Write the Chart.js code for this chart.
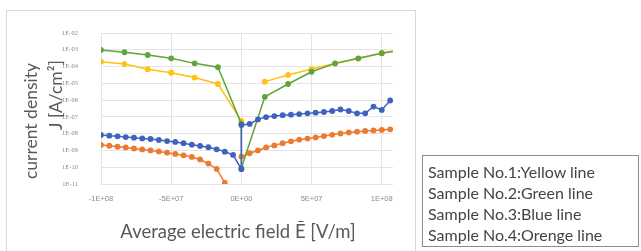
<!DOCTYPE html>
<html>
<head>
<meta charset="utf-8">
<script src="https://cdn.jsdelivr.net/npm/chart.js@4.4.1/dist/chart.umd.min.js"></script>
<style>
  body { margin: 0; background: #fff; width: 641px; height: 251px; overflow: hidden; position: relative; }
  #panel { position: absolute; left: 6px; top: 10px; width: 410px; height: 250px; border: 1px solid #d9d9d9; box-sizing: border-box; }
  #c { position: absolute; left: 0; top: 0; }
  .ttl { position: absolute; font-family: Lato, sans-serif; color: #595959; white-space: nowrap; transform: translate(-50%, -50%); }
  .rot { transform: translate(-50%, -50%) rotate(-90deg); }
  #box { position: absolute; left: 422px; top: 155px; width: 217px; height: 92px; border: 1px solid #8c8c8c; box-sizing: border-box;
         font-family: Lato, sans-serif; font-size: 16px; color: #444; padding: 5px 0 0 5px; line-height: 21px; }
</style>
</head>
<body>
<div id="panel"></div>
<canvas id="c" width="641" height="251"></canvas>
<div class="ttl rot" style="left:30px; top:121px; font-size:17.5px;">current density</div>
<div class="ttl rot" style="left:55px; top:95px; font-size:17.5px;">J [A/cm²]</div>
<div class="ttl" style="left:238px; top:231px; font-size:18.5px;">Average electric field Ē [V/m]</div>
<div id="box">
  <div>Sample No.1:Yellow line</div>
  <div>Sample No.2:Green line</div>
  <div>Sample No.3:Blue line</div>
  <div>Sample No.4:Orenge line</div>
</div>
<script>
// field values [V/m]
const E_coarseNeg = [-1.0e8, -8.33e7, -6.67e7, -5.0e7, -3.33e7, -1.67e7, 0];
const E_coarsePos = [1.67e7, 3.33e7, 5.0e7, 6.67e7, 8.33e7, 1.0e8, 1.17e8];
const E_fineNeg = [-1.0e8, -9.41e7, -8.82e7, -8.24e7, -7.65e7, -7.06e7, -6.47e7, -5.88e7, -5.29e7,
                   -4.71e7, -4.12e7, -3.53e7, -2.94e7, -2.35e7, -1.76e7, -1.18e7, -5.9e6, 0];
const E_finePos = [0, 5.9e6, 1.18e7, 1.76e7, 2.35e7, 2.94e7, 3.53e7, 4.12e7, 4.71e7, 5.29e7,
                   5.88e7, 6.47e7, 7.06e7, 7.65e7, 8.24e7, 8.82e7, 9.41e7, 1.0e8, 1.06e8];

// current density [A/cm2]
const yellowNeg = [1.95e-4, 1.41e-4, 6.9e-5, 4.3e-5, 2.2e-5, 9.1e-6, 5.8e-8];
const yellowPos = [1.26e-5, 3.16e-5, 7.1e-5, 1.51e-4, 3.0e-4, 6.5e-4, 1.12e-3];

const greenNeg = [9.8e-4, 7.1e-4, 4.9e-4, 3.1e-4, 1.55e-4, 9.1e-5, 3.8e-8];
const greenZero = 8.9e-11;
const greenPos = [1.58e-6, 9.1e-6, 4.9e-5, 1.55e-4, 3.1e-4, 6.2e-4, 1.05e-3];

const blueNeg = [8.3e-9, 7.6e-9, 6.9e-9, 6.3e-9, 5.8e-9, 5.2e-9, 4.8e-9, 4.2e-9, 3.6e-9, 3.2e-9,
                 2.7e-9, 2.2e-9, 1.86e-9, 1.55e-9, 1.17e-9, 8.5e-10, 5.4e-10, 7.6e-11];
const bluePos = [3.3e-8, 3.8e-8, 7.1e-8, 9.8e-8, 1.12e-7, 1.26e-7, 1.35e-7, 1.48e-7, 1.62e-7, 1.78e-7,
                 1.95e-7, 2.24e-7, 2.75e-7, 2.24e-7, 1.62e-7, 1.62e-7, 4.1e-7, 2.6e-7, 9.5e-7];

const orangeNeg = [2.14e-9, 1.91e-9, 1.66e-9, 1.51e-9, 1.32e-9, 1.15e-9, 1.0e-9, 8.7e-10, 7.4e-10,
                   6.2e-10, 5.1e-10, 4.1e-10, 2.9e-10, 1.66e-10, 7.9e-11, 1.2e-11, 1.0e-12];
const orangePos = [4.3e-10, 6.8e-10, 1.0e-9, 1.51e-9, 2.0e-9, 2.7e-9, 3.5e-9, 4.4e-9, 5.1e-9, 6.0e-9,
                   7.2e-9, 8.5e-9, 1.02e-8, 1.17e-8, 1.32e-8, 1.45e-8, 1.55e-8, 1.66e-8, 1.82e-8];

const xTicks = [-1e8, -5e7, 0, 5e7, 1e8];
const yTicks = [1e-11, 1e-10, 1e-9, 1e-8, 1e-7, 1e-6, 1e-5, 1e-4, 1e-3, 1e-2];

const pts = (xs, ys) => ys.map((v, i) => ({x: xs[i], y: v}));
const gap = {x: 0, y: null};

// excel style 1E-02
const fmt = (v) => {
  if (v === 0) return '0E+00';
  const e = Math.floor(Math.log10(Math.abs(v)) + 1e-9);
  const m = Math.round(v / Math.pow(10, e));
  return m + 'E' + (e < 0 ? '-' : '+') + String(Math.abs(e)).padStart(2, '0');
};

const mk = (color, data) => ({
  data: data,
  showLine: true,
  spanGaps: false,
  borderColor: color,
  backgroundColor: color,
  borderWidth: 1.5,
  pointRadius: 2.9,
  pointBorderWidth: 0,
  tension: 0
});

const datasets = [
  mk('#3f62bd', pts(E_fineNeg, blueNeg).concat(pts(E_finePos, bluePos))),
  mk('#62a33e', pts(E_coarseNeg, greenNeg).concat([{x: 0, y: greenZero}], pts(E_coarsePos, greenPos))),
  mk('#ec7a30', pts(E_fineNeg, orangeNeg).concat([gap], pts(E_finePos, orangePos))),
  mk('#ffc20e', pts(E_coarseNeg, yellowNeg).concat([gap], pts(E_coarsePos, yellowPos)))
];

new Chart(document.getElementById('c'), {
  type: 'scatter',
  data: {datasets: datasets},
  options: {
    responsive: false,
    animation: false,
    layout: {padding: {left: 0, top: 33, right: 248, bottom: 0}},
    plugins: {legend: {display: false}, tooltip: {enabled: false}},
    scales: {
      x: {
        type: 'linear', min: -1e8, max: 1.08e8,
        afterBuildTicks: (s) => { s.ticks = xTicks.map(v => ({value: v})); },
        afterFit: (s) => { s.height = 67; },
        grid: {color: '#e4e4e4', drawTicks: false},
        border: {display: false},
        ticks: {padding: 10, maxRotation: 0, color: '#8a8a8a', font: {family: 'Liberation Sans', size: 7.5},
                callback: (v) => fmt(v)}
      },
      y: {
        type: 'logarithmic', min: 1e-11, max: 1e-2,
        afterBuildTicks: (s) => { s.ticks = yTicks.map(v => ({value: v})); },
        afterFit: (s) => { s.width = 101; },
        grid: {color: '#e4e4e4', drawTicks: false},
        border: {display: false},
        ticks: {padding: 23, color: '#8a8a8a', font: {family: 'Liberation Serif', size: 6.5},
                callback: (v) => fmt(v)}
      }
    }
  }
});
</script>
</body>
</html>
